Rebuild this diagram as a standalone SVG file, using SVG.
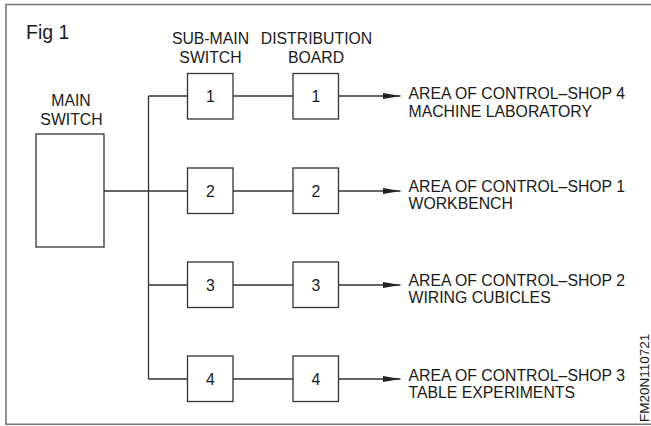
<svg xmlns="http://www.w3.org/2000/svg" width="651" height="426" viewBox="0 0 651 426">
<style>
text{font-family:"Liberation Sans",Arial,sans-serif;fill:#1a1a1a;font-size:15.8px}
.c{text-anchor:middle}
.box{fill:#fff;stroke:#333;stroke-width:1.3}
.ln{fill:none;stroke:#333;stroke-width:1.3}
</style>
<defs>
<marker id="ah" markerWidth="18" markerHeight="6" refX="18" refY="3" orient="auto" markerUnits="userSpaceOnUse">
<path d="M0,0 L18,3 L0,6 Z" fill="#222"/>
</marker>
</defs>
<rect width="651" height="426" fill="#fff"/>
<path d="M660,4.5 H6 V424.3 H660" fill="none" stroke="#777" stroke-width="1.6"/>
<text x="26" y="39" style="font-size:19.5px">Fig 1</text>
<g id="headers">
<text class="c" x="210.5" y="44.3">SUB-MAIN</text>
<text class="c" x="210.5" y="63.3">SWITCH</text>
<text class="c" x="316.5" y="44.3">DISTRIBUTION</text>
<text class="c" x="316" y="63.3">BOARD</text>
</g>
<g id="connectors">
<path class="ln" d="M104,191 H148.5 M148.5,96 V379 M148.5,96 H188 M148.5,191 H188 M148.5,285 H188 M148.5,379 H188"/>
<path class="ln" d="M233,96 H293 M233,191 H293 M233,285 H293 M233,379 H293"/>
<path class="ln" d="M338,96 H400.5" marker-end="url(#ah)"/>
<path class="ln" d="M338,191 H400.5" marker-end="url(#ah)"/>
<path class="ln" d="M338,285 H400.5" marker-end="url(#ah)"/>
<path class="ln" d="M338,379 H400.5" marker-end="url(#ah)"/>
</g>
<g id="main-switch">
<rect class="box" x="36" y="134" width="68" height="113"/>
<text class="c" x="71" y="106">MAIN</text>
<text class="c" x="71.5" y="125">SWITCH</text>
</g>
<g id="sms1"><rect class="box" x="187.5" y="73.5" width="45.5" height="45.5"/><text class="c" x="210.3" y="102">1</text></g>
<g id="sms2"><rect class="box" x="187.5" y="168" width="45.5" height="45.5"/><text class="c" x="210.3" y="196.5">2</text></g>
<g id="sms3"><rect class="box" x="187.5" y="262" width="45.5" height="45.5"/><text class="c" x="210.3" y="290.5">3</text></g>
<g id="sms4"><rect class="box" x="187.5" y="356" width="45.5" height="45.5"/><text class="c" x="210.3" y="384.5">4</text></g>
<g id="db1"><rect class="box" x="293" y="73.5" width="45.5" height="45.5"/><text class="c" x="315.8" y="102">1</text></g>
<g id="db2"><rect class="box" x="293" y="168" width="45.5" height="45.5"/><text class="c" x="315.8" y="196.5">2</text></g>
<g id="db3"><rect class="box" x="293" y="262" width="45.5" height="45.5"/><text class="c" x="315.8" y="290.5">3</text></g>
<g id="db4"><rect class="box" x="293" y="356" width="45.5" height="45.5"/><text class="c" x="315.8" y="384.5">4</text></g>
<g id="area4"><text x="408.5" y="99.3">AREA OF CONTROL–SHOP 4</text><text x="408.5" y="116.7">MACHINE LABORATORY</text></g>
<g id="area1"><text x="408.5" y="192">AREA OF CONTROL–SHOP 1</text><text x="408.5" y="209.3">WORKBENCH</text></g>
<g id="area2"><text x="408.5" y="286">AREA OF CONTROL–SHOP 2</text><text x="408.5" y="303.3">WIRING CUBICLES</text></g>
<g id="area3"><text x="408.5" y="380.7">AREA OF CONTROL–SHOP 3</text><text x="408.5" y="397.7">TABLE EXPERIMENTS</text></g>
<text transform="translate(648.5,422) rotate(-90)" style="font-size:13.5px">FM20N110721</text>
</svg>
